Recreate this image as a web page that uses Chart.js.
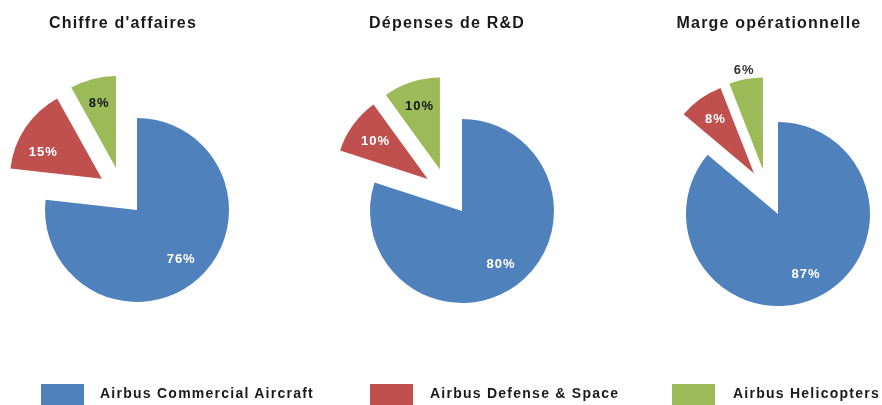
<!DOCTYPE html>
<html lang="fr">
<head>
<meta charset="utf-8">
<title>Airbus - répartition par division</title>
<script src="https://cdn.jsdelivr.net/npm/chart.js@4.4.1/dist/chart.umd.min.js"></script>
<style>
  body {
    margin: 0;
    width: 882px;
    height: 405px;
    overflow: hidden;
    position: relative;
    background: #fff;
    font-family: "Liberation Sans", Arial, sans-serif;
    color: #1a1a1a;
  }
  canvas { position: absolute; top: 0; }
  .title {
    position: absolute;
    top: 15px;
    font-size: 16px;
    line-height: 16px;
    font-weight: bold;
    letter-spacing: 1.2px;
    white-space: nowrap;
    transform: translateX(-50%);
  }
  .swatch { position: absolute; top: 384px; width: 43px; height: 24px; }
  .legend-text {
    position: absolute;
    top: 386px;
    font-size: 14px;
    line-height: 14px;
    font-weight: bold;
    letter-spacing: 1.25px;
    white-space: nowrap;
  }
</style>
</head>
<body>
<div id="charts"></div>
<div id="legend"></div>

<script>
// Data
const divisions = ["Airbus Commercial Aircraft", "Airbus Defense & Space", "Airbus Helicopters"];
const titles = ["Chiffre d'affaires", "Dépenses de R&D", "Marge opérationnelle"];
const revenue = [76, 15, 8];
const rdSpend = [80, 10, 10];
const opMargin = [87, 8, 6];

// Styles
const colours = ["#4F81BD", "#C0504D", "#9BBB59"];
const labelColours = ["#ffffff", "#ffffff", "#141414"];
const push = [0, 47, 47];
const layouts = [
  { cx: 137, cy: 210, titleX: 123, turn: [0, 8, -12], labelTurn: [0, -9, 0], labelAt: [0.72, 0.7, 0.73] },
  { cx: 462, cy: 211, titleX: 447, turn: [0, 7, -10], labelTurn: [0, 0, 0], labelAt: [0.72, 0.7, 0.72] },
  { cx: 778, cy: 214, titleX: 769, turn: [0, 5, -8], labelTurn: [0, 0, 0], labelAt: [0.72, 0.72, 1.1] }
];
const legendPos = [ { box: 41, text: 100 }, { box: 370, text: 430 }, { box: 672, text: 733 } ];

/* ---------- EXPLODED SLICES + LABELS ---------- */
function explodePlugin(layout) {
  return {
    id: 'explode',
    beforeDatasetDraw(chart, args) {
      const ctx = chart.ctx;
      const arcs = args.meta.data;
      const values = chart.data.datasets[args.index].data;
      const shift = arcs.map((arc, i) => {
        const dir = (arc.startAngle + arc.endAngle) / 2 + layout.turn[i] * Math.PI / 180;
        return [Math.cos(dir) * push[i], Math.sin(dir) * push[i]];
      });

      arcs.forEach((arc, i) => {
        ctx.save();
        ctx.translate(shift[i][0], shift[i][1]);
        arc.draw(ctx);
        ctx.restore();
      });

      arcs.forEach((arc, i) => {
        const mid = (arc.startAngle + arc.endAngle) / 2 + layout.labelTurn[i] * Math.PI / 180;
        const r = arc.outerRadius * layout.labelAt[i];
        ctx.save();
        ctx.font = 'bold 13px "Liberation Sans", Arial, sans-serif';
        ctx.letterSpacing = '1px';
        ctx.textAlign = 'center';
        ctx.textBaseline = 'middle';
        ctx.fillStyle = layout.labelAt[i] > 1 ? '#333333' : labelColours[i];
        ctx.fillText(values[i] + '%', arc.x + shift[i][0] + Math.cos(mid) * r, arc.y + shift[i][1] + Math.sin(mid) * r);
        ctx.restore();
      });
      return false;
    }
  };
}

function makePie(idx, values) {
  const lay = layouts[idx];
  const canvas = document.createElement('canvas');
  canvas.width = 300;
  canvas.height = lay.cy * 2;
  canvas.style.left = (lay.cx - 150) + 'px';
  document.getElementById('charts').appendChild(canvas);

  const t = document.createElement('div');
  t.className = 'title';
  t.style.left = lay.titleX + 'px';
  t.textContent = titles[idx];
  document.body.appendChild(t);

  return new Chart(canvas, {
    type: 'pie',
    data: {
      labels: divisions,
      datasets: [{ data: values, backgroundColor: colours, borderWidth: 0 }]
    },
    options: {
      responsive: false,
      animation: false,
      events: [],
      radius: 92,
      plugins: { legend: { display: false }, tooltip: { enabled: false } }
    },
    plugins: [explodePlugin(lay)]
  });
}

makePie(0, revenue);
makePie(1, rdSpend);
makePie(2, opMargin);

document.getElementById('legend').innerHTML = divisions.map((d, i) => `
  <div class="swatch" style="left:${legendPos[i].box}px;background:${colours[i]}"></div>
  <div class="legend-text" style="left:${legendPos[i].text}px">${d.replace('&', '&amp;')}</div>`).join('');
</script>
</body>
</html>
